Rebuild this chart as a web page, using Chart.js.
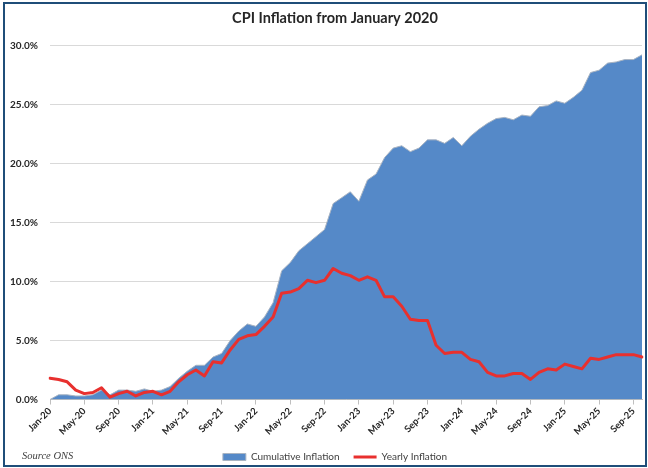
<!DOCTYPE html>
<html>
<head>
<meta charset="utf-8">
<script src="https://cdn.jsdelivr.net/npm/chart.js@4.4.1/dist/chart.umd.min.js"></script>
<style>
  html, body { margin: 0; padding: 0; background: #fff; }
  #wrap { width: 648px; height: 468px; }
</style>
</head>
<body>
<div id="wrap"><canvas id="cpi" width="648" height="468"></canvas></div>
<script>
// months shown on the x axis (one label every 4 months)
const months = [
  'Jan-20','Feb-20','Mar-20','Apr-20','May-20','Jun-20','Jul-20','Aug-20','Sep-20','Oct-20','Nov-20','Dec-20',
  'Jan-21','Feb-21','Mar-21','Apr-21','May-21','Jun-21','Jul-21','Aug-21','Sep-21','Oct-21','Nov-21','Dec-21',
  'Jan-22','Feb-22','Mar-22','Apr-22','May-22','Jun-22','Jul-22','Aug-22','Sep-22','Oct-22','Nov-22','Dec-22',
  'Jan-23','Feb-23','Mar-23','Apr-23','May-23','Jun-23','Jul-23','Aug-23','Sep-23','Oct-23','Nov-23','Dec-23',
  'Jan-24','Feb-24','Mar-24','Apr-24','May-24','Jun-24','Jul-24','Aug-24','Sep-24','Oct-24','Nov-24','Dec-24',
  'Jan-25','Feb-25','Mar-25','Apr-25','May-25','Jun-25','Jul-25','Aug-25','Sep-25','Oct-25'
];

// % rise in prices since Jan 2020
const cumulative = [
  0.0, 0.4, 0.4, 0.3, 0.3, 0.4, 0.8, 0.4, 0.8, 0.8, 0.7, 0.9,
  0.7, 0.8, 1.1, 1.8, 2.4, 2.9, 2.9, 3.6, 3.9, 5.0, 5.8, 6.4,
  6.2, 7.0, 8.2, 10.9, 11.6, 12.6, 13.2, 13.8, 14.4, 16.6, 17.1, 17.6,
  16.8, 18.6, 19.1, 20.5, 21.3, 21.5, 21.0, 21.3, 22.0, 22.0, 21.7, 22.2,
  21.5, 22.3, 22.9, 23.4, 23.8, 23.9, 23.7, 24.1, 24.0, 24.8, 24.9, 25.3,
  25.1, 25.6, 26.2, 27.7, 27.9, 28.5, 28.6, 28.8, 28.8, 29.2
];

// 12 month rate
const yearly = [
  1.8, 1.7, 1.5, 0.8, 0.5, 0.6, 1.0, 0.2, 0.5, 0.7, 0.3, 0.6,
  0.7, 0.4, 0.7, 1.5, 2.1, 2.5, 2.0, 3.2, 3.1, 4.2, 5.1, 5.4,
  5.5, 6.2, 7.0, 9.0, 9.1, 9.4, 10.1, 9.9, 10.1, 11.1, 10.7, 10.5,
  10.1, 10.4, 10.1, 8.7, 8.7, 7.9, 6.8, 6.7, 6.7, 4.6, 3.9, 4.0,
  4.0, 3.4, 3.2, 2.3, 2.0, 2.0, 2.2, 2.2, 1.7, 2.3, 2.6, 2.5,
  3.0, 2.8, 2.6, 3.5, 3.4, 3.6, 3.8, 3.8, 3.8, 3.6
];

const yTicks = [0, 5, 10, 15, 20, 25, 30];

const FONT = 'Lato, "Open Sans", sans-serif';

// frame + source note, like the excel export
const framePlugin = {
  id: 'frame',
  beforeDraw(chart) {
    const ctx = chart.ctx;
    ctx.save();
    ctx.fillStyle = '#fff';
    ctx.fillRect(0, 0, chart.width, chart.height);
    ctx.restore();
  },
  afterLayout(chart) {
    // title and legend sit a bit right of the canvas centre
    [chart.titleBlock, chart.legend].forEach(b => {
      if (b) { b.left += 10; b.right += 10; }
    });
  },
  afterDraw(chart) {
    const ctx = chart.ctx;
    ctx.save();
    ctx.strokeStyle = '#1f4e79';
    ctx.lineWidth = 2;
    ctx.strokeRect(4, 3, 642, 463);
    ctx.fillStyle = '#404040';
    ctx.font = 'italic 10.5px "Liberation Serif", serif';
    ctx.textBaseline = 'middle';
    ctx.fillText('Source ONS', 22, 456);
    ctx.restore();
  }
};

new Chart(document.getElementById('cpi'), {
  type: 'line',
  data: {
    labels: months,
    datasets: [
      {
        label: 'Cumulative Inflation',
        data: cumulative,
        fill: 'origin',
        backgroundColor: '#5589c8',
        borderColor: '#a9b4c2',
        borderWidth: 1,
        pointRadius: 0,
        tension: 0,
        order: 2
      },
      {
        label: 'Yearly Inflation',
        data: yearly,
        fill: false,
        borderColor: '#e8302e',
        backgroundColor: '#e8302e',
        borderWidth: 3,
        borderJoinStyle: 'round',
        borderCapStyle: 'round',
        pointRadius: 0,
        tension: 0,
        order: 1
      }
    ]
  },
  options: {
    responsive: false,
    animation: false,
    layout: { padding: { left: 8, right: 6, top: 0, bottom: -4 } },
    plugins: {
      title: {
        display: true,
        text: 'CPI Inflation from January 2020',
        color: '#262626',
        font: { family: FONT, size: 14.5, weight: 'bold' },
        padding: { top: 10, bottom: 18 }
      },
      legend: {
        position: 'bottom',
        labels: {
          color: '#404040',
          font: { family: FONT, size: 10 },
          usePointStyle: true,
          pointStyleWidth: 23,
          boxHeight: 7,
          padding: 14,
          generateLabels(chart) {
            const items = Chart.defaults.plugins.legend.labels.generateLabels(chart);
            items.forEach(it => { it.pointStyle = it.datasetIndex === 0 ? 'rect' : 'line'; });
            return items.sort((a, b) => a.datasetIndex - b.datasetIndex);
          }
        }
      },
      tooltip: { enabled: false }
    },
    scales: {
      x: {
        offset: false,
        grid: { drawOnChartArea: false, drawTicks: true, tickLength: 5, color: '#bfbfbf' },
        border: { display: true, color: '#bfbfbf' },
        ticks: {
          autoSkip: false,
          minRotation: 45,
          maxRotation: 45,
          padding: 1,
          color: '#262626',
          font: { family: FONT, size: 9.5, weight: 'bold' },
          callback: (v, i) => (i % 4 === 0 ? months[i] : null)
        }
      },
      y: {
        min: yTicks[0],
        max: yTicks[yTicks.length - 1],
        afterFit: axis => { axis.width = 42; },
        grid: { color: '#d9d9d9', drawTicks: false },
        border: { display: false },
        afterBuildTicks: axis => { axis.ticks = yTicks.map(v => ({ value: v })); },
        ticks: {
          padding: 12,
          color: '#262626',
          font: { family: FONT, size: 10, weight: 'bold' },
          callback: v => v.toFixed(1) + '%'
        }
      }
    }
  },
  plugins: [framePlugin]
});
</script>
</body>
</html>
